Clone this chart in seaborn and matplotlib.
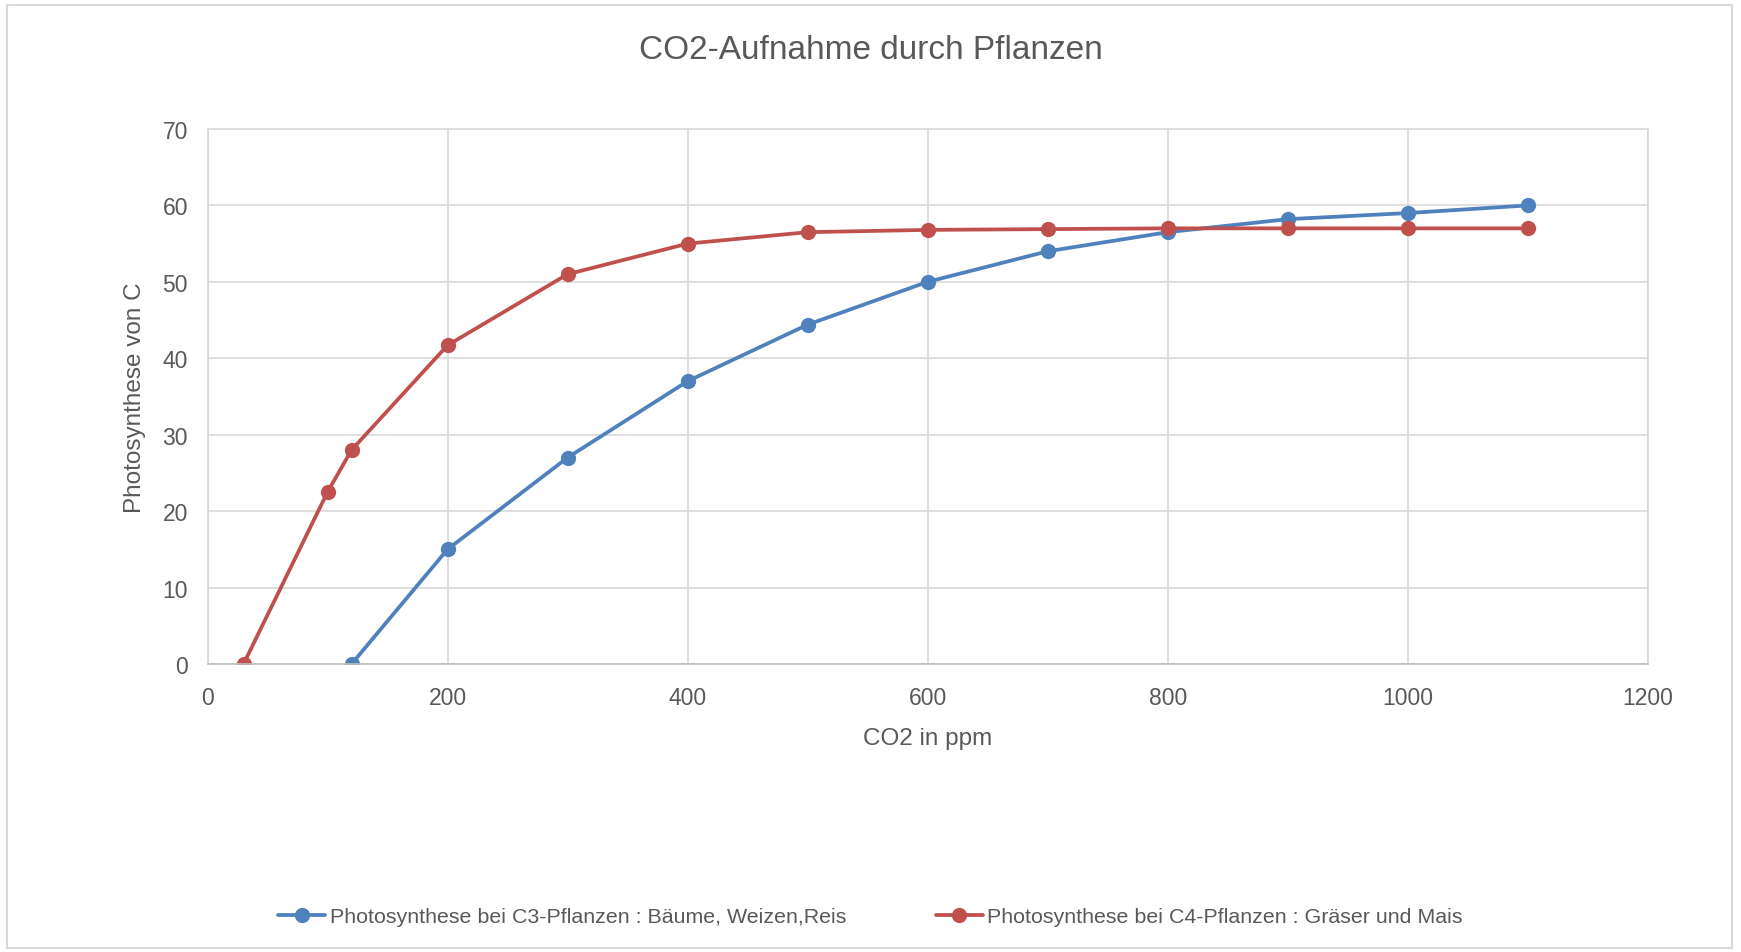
import matplotlib
matplotlib.use("Agg")
import matplotlib.pyplot as plt
import seaborn as sns
import pandas as pd
from matplotlib.patches import Rectangle

# Data
c3_x = [120, 200, 300, 400, 500, 600, 700, 800, 900, 1000, 1100]
c3_y = [0, 15, 27, 37, 44.4, 50, 54, 56.5, 58.2, 59, 60]
c4_x = [30, 100, 120, 200, 300, 400, 500, 600, 700, 800, 900, 1000, 1100]
c4_y = [0, 22.5, 28, 41.7, 51, 55, 56.5, 56.8, 56.9, 57, 57, 57, 57]
c3_name = "Photosynthese bei C3-Pflanzen : Bäume, Weizen,Reis"
c4_name = "Photosynthese bei C4-Pflanzen : Gräser und Mais"
title = "CO2-Aufnahme durch Pflanzen"
xlabel = "CO2 in ppm"
ylabel = "Photosynthese von C"
xticks = [0, 200, 400, 600, 800, 1000, 1200]
yticks = [0, 10, 20, 30, 40, 50, 60, 70]

df = pd.concat([
    pd.DataFrame({"x": c3_x, "y": c3_y, "Serie": c3_name}),
    pd.DataFrame({"x": c4_x, "y": c4_y, "Serie": c4_name}),
], ignore_index=True)

sns.set_theme(style="white")
plt.rcParams['font.family'] = ['Liberation Sans', 'DejaVu Sans']

text_col = "#595959"
grid_col = "#d9d9d9"

fig = plt.figure(figsize=(17.41, 9.53), dpi=100)
ax = fig.add_axes([0.1192, 0.3022, 0.8272, 0.5614])

sns.lineplot(data=df, x="x", y="y", hue="Serie", sort=False,
             palette={c3_name: "#4F81BD", c4_name: "#C0504D"},
             marker="o", markersize=11, markeredgewidth=0, linewidth=2.7,
             ax=ax, legend=True)

ax.set_xlim(0, 1200)
ax.set_ylim(0, 70)
ax.set_xticks(xticks)
ax.set_yticks(yticks)
ax.tick_params(axis="both", colors=text_col, labelsize=16.5, length=0)
ax.tick_params(axis="x", pad=16)
ax.tick_params(axis="y", pad=14)
ax.grid(True, color=grid_col, linewidth=1.2)
ax.set_axisbelow(True)
for s in ["top", "right", "left"]:
    ax.spines[s].set_color(grid_col)
    ax.spines[s].set_linewidth(1.2)
ax.spines["bottom"].set_color("#bfbfbf")
ax.spines["bottom"].set_linewidth(1.2)

ax.set_xlabel(xlabel, color=text_col, fontsize=17.5, labelpad=13)
ax.set_ylabel(ylabel, color=text_col, fontsize=17.5, labelpad=12)

fig.text(0.5, 0.947, title, ha="center", va="center", fontsize=24, color=text_col)

handles, labels = ax.get_legend_handles_labels()
ax.legend(handles, labels, loc="center", bbox_to_anchor=(0.5, 0.037),
          bbox_transform=fig.transFigure, ncol=2, frameon=False,
          fontsize=15.4, labelcolor=text_col, columnspacing=4.2,
          handlelength=2.2, handletextpad=0.2)

fig.patches.append(Rectangle((0.004, 0.004), 0.991, 0.99, transform=fig.transFigure,
                             fill=False, edgecolor="#d9d9d9", linewidth=1.5))

fig.savefig("out.png", dpi=100, facecolor="white")
